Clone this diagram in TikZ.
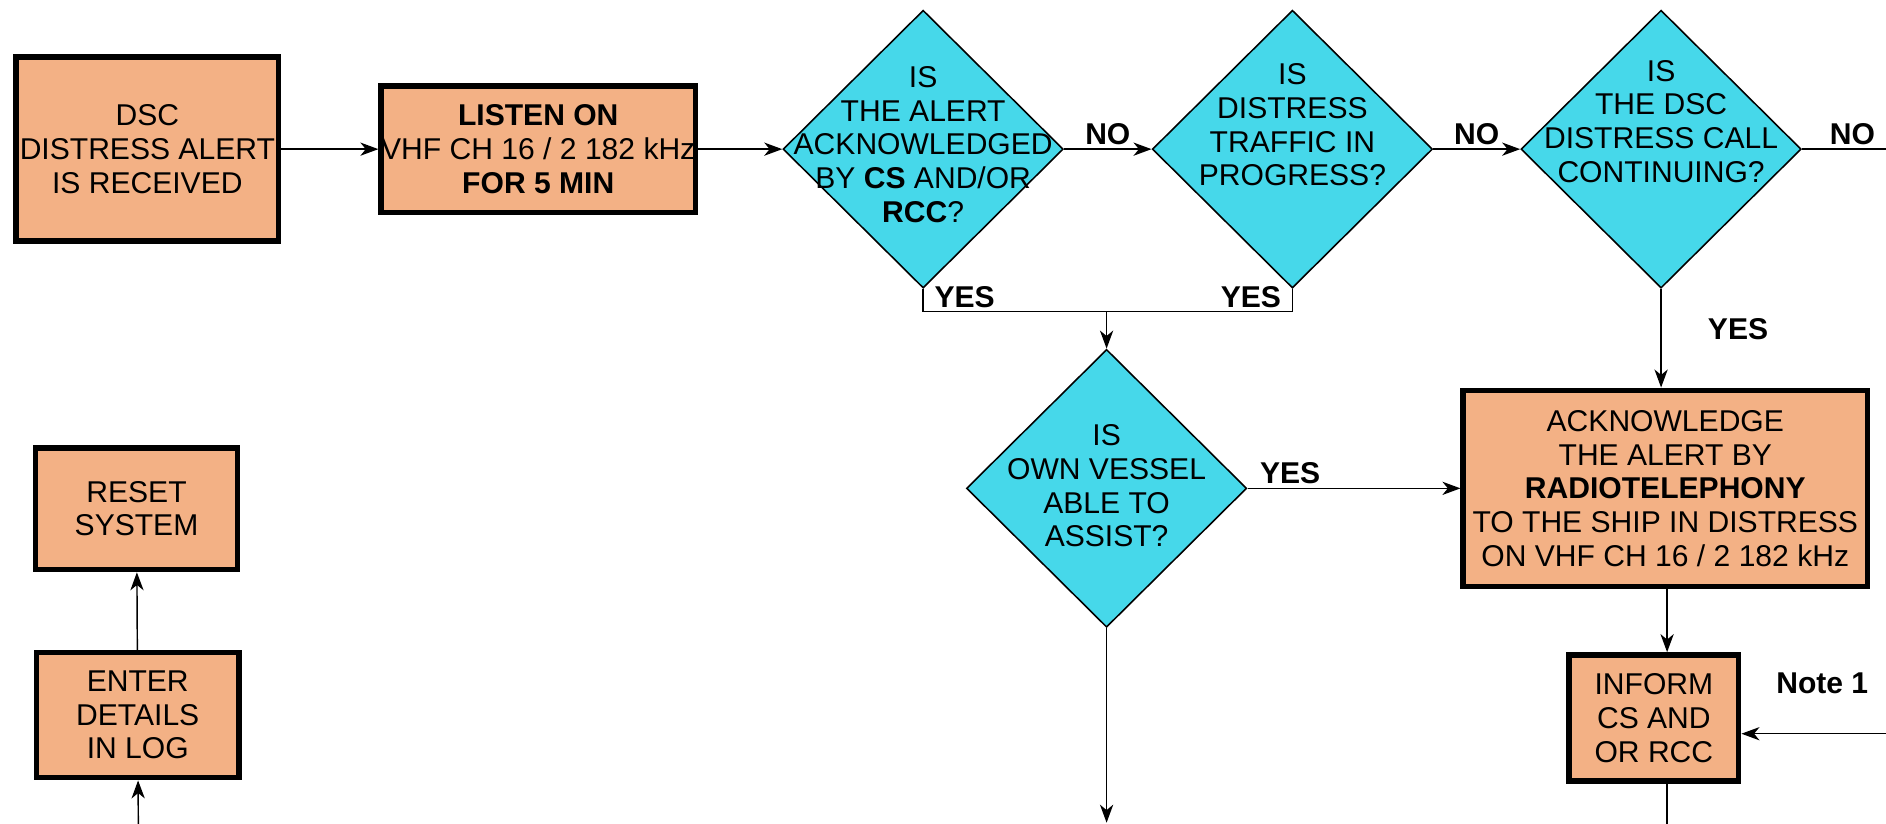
\documentclass[tikz,border=0pt]{standalone}
\usepackage{fontspec}
\setmainfont{Liberation Sans}
\usepackage{xcolor}
\usetikzlibrary{shapes.geometric,arrows.meta}
\definecolor{boxfill}{RGB}{243,177,133}
\definecolor{askfill}{RGB}{70,216,234}

\begin{document}
\begin{tikzpicture}[x=1pt,y=-1pt,
                    font=\fontsize{25}{28}\selectfont,
                    stepbox/.style={draw=black,line width=4.6pt,fill=boxfill,align=center,inner sep=0pt},
                    decision/.style={shape=diamond,draw=black,line width=1.3pt,fill=askfill,inner sep=0pt,minimum width=233pt,minimum height=231pt},
                    asktext/.style={align=center,inner sep=0pt},
                    answer/.style={font=\fontsize{25}{28}\selectfont\bfseries,inner sep=3pt},
                    flow/.style={line width=1.2pt},
                    arr/.style={flow,-{Stealth[length=15pt,width=11pt,inset=4.5pt]}}]
                    \useasboundingbox (0,0) rectangle (1568,685);

                    \node[stepbox,minimum width=218pt,minimum height=153pt] (dsc) at (122.5,124) {DSC\\DISTRESS ALERT\\IS RECEIVED};
                    \node[stepbox,minimum width=258pt,minimum height=105pt] (listen) at (447.5,124) {\textbf{LISTEN ON}\\VHF CH 16 / 2 182 kHz\\\textbf{FOR 5 MIN}};

                    \node[decision] (acked) at (767.5,124) {};
                    \node[asktext] (ackedT) at (767.5,120) {IS\\THE ALERT\\ACKNOWLEDGED\\BY \textbf{CS} AND/OR\\\textbf{RCC}?};
                    \node[decision] (traffic) at (1074.5,124) {};
                    \node[asktext] (trafficT) at (1074.5,104) {IS\\DISTRESS\\TRAFFIC IN\\PROGRESS?};
                    \node[decision] (calling) at (1381,124) {};
                    \node[asktext] (callingT) at (1381,101) {IS\\THE DSC\\DISTRESS CALL\\CONTINUING?};
                    \node[decision] (assist) at (920,406) {};
                    \node[asktext] (assistT) at (920,404) {IS\\OWN VESSEL\\ABLE TO\\ASSIST?};

                    \node[stepbox,minimum width=336pt,minimum height=163pt] (reply) at (1384.5,406) {ACKNOWLEDGE\\THE ALERT BY\\\textbf{RADIOTELEPHONY}\\TO THE SHIP IN DISTRESS\\ON VHF CH 16 / 2 182 kHz};
                    \node[stepbox,minimum width=141pt,minimum height=105pt] (inform) at (1375,597) {INFORM\\CS AND\\OR RCC};
                    \node[stepbox,minimum width=168pt,minimum height=101pt] (reset) at (113.5,423) {RESET\\SYSTEM};
                    \node[stepbox,minimum width=168pt,minimum height=104pt] (logbook) at (114.5,594.5) {ENTER\\DETAILS\\IN LOG};

                    \coordinate (merge) at (920,259);
                    \coordinate (offRight) at (1568,124);
                    \coordinate (assistOut) at (920,684);
                    \coordinate (informOut) at (1386,685);
                    \coordinate (noteIn) at (1568,610);
                    \coordinate (logIn) at (115,685);

                    \draw[arr] (dsc) -- (listen);
                    \draw[arr] (listen) -- (acked);
                    \draw[arr] (acked) -- node[answer,above] (no1) {NO} (traffic);
                    \draw[arr] (traffic) -- node[answer,above] (no2) {NO} (calling);
                    \draw[flow] (calling) -- node[answer,above,pos=0.6] (no3) {NO} (offRight);

                    \draw[flow] (acked.south) |- (merge) -| (traffic.south);
                    \node[answer] (yes1) at (802,247) {YES};
                    \node[answer] (yes2) at (1040,247) {YES};
                    \draw[arr] (merge) -- (assist);

                    \draw[arr] (assist) -- node[answer,above,pos=0.2] (yes3) {YES} (reply);
                    \draw[arr] (assist) -- (assistOut);
                    \draw[arr] (calling.south) -- (calling.south |- reply.north);
                    \node[answer] (yes4) at (1445,274) {YES};

                    \draw[arr] (reply.south -| informOut) -- (inform.north -| informOut);
                    \draw[flow] (inform.south -| informOut) -- (informOut);
                    \draw[arr] (noteIn) -- (noteIn -| inform.east);
                    \node[answer] (note) at (1515,568) {Note 1};

                    \draw[arr] (logIn) -- (logbook);
                    \draw[arr] (logbook) -- (reset);
                \end{tikzpicture}
\end{document}
